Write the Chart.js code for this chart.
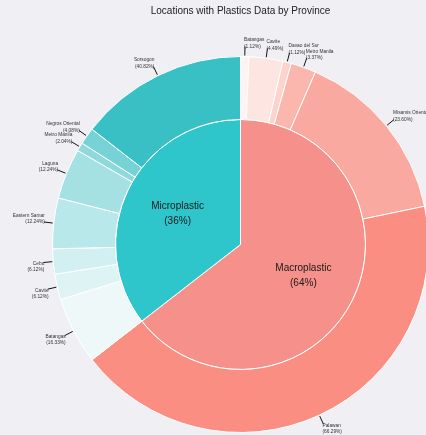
<!DOCTYPE html>
<html>
<head>
<meta charset="utf-8">
<script src="https://cdn.jsdelivr.net/npm/chart.js@4.4.1/dist/chart.umd.min.js"></script>
<style>
  html, body { margin: 0; padding: 0; background: #f0eff4; overflow: hidden; }
  #wrap { width: 440px; height: 435px; }
</style>
</head>
<body>
<div id="wrap"><canvas id="c" width="440" height="435"></canvas></div>
<script>
const title = 'Locations with Plastics Data by Province';
const categories = ['Macroplastic', 'Microplastic'];
const macroProvinces = ['Batangas', 'Cavite', 'Davao del Sur', 'Metro Manila', 'Misamis Oriental', 'Palawan'];
const macroCounts = [1, 4, 1, 3, 21, 59];
const microProvinces = ['Batangas', 'Cavite', 'Cebu', 'Eastern Samar', 'Laguna', 'Metro Manila', 'Negros Oriental', 'Sorsogon'];
const microCounts = [8, 3, 3, 6, 6, 1, 2, 20];

const sum = a => a.reduce((s, v) => s + v, 0);
const innerValues = [sum(macroCounts), sum(microCounts)];
const total = sum(innerValues);
const innerColors = ['#f5918a', '#2ec5cb'];
const macroColors = ['#fdf3f2', '#fde6e2', '#fcd3cd', '#fbb7ad', '#f9a99f', '#fb8e82'];
const microColors = ['#eef8f9', '#ddf3f4', '#d2f0f1', '#b8e8ea', '#a5e1e3', '#8fd9dc', '#76d2d5', '#38c0c5'];

const outerLabels = macroProvinces.concat(microProvinces);
const outerValues = macroCounts.concat(microCounts);
const outerPct = macroCounts.map(v => (v / innerValues[0] * 100).toFixed(2))
  .concat(microCounts.map(v => (v / innerValues[1] * 100).toFixed(2)));

const labelPlugin = {
  id: 'labels',
  afterDraw(chart) {
    const ctx = chart.ctx;
    const ca = chart.chartArea;
    // title
    ctx.save();
    const outerMeta = chart.getDatasetMeta(0);
    const cx = outerMeta.data[0].x, cy = outerMeta.data[0].y;
    ctx.fillStyle = '#222';
    ctx.font = '10px "Liberation Sans", Arial, sans-serif';
    ctx.textAlign = 'center';
    ctx.textBaseline = 'middle';
    ctx.fillText(title, cx, 11);

    // outer labels
    ctx.font = '4.8px "Liberation Sans", Arial, sans-serif';
    outerMeta.data.forEach((arc, i) => {
      const p = arc.getProps(['x', 'y', 'startAngle', 'endAngle', 'outerRadius'], true);
      const mid = (p.startAngle + p.endAngle) / 2;
      const c = Math.cos(mid), s = Math.sin(mid);
      const x0 = p.x + c * (p.outerRadius + 1), y0 = p.y + s * (p.outerRadius + 1);
      const x1 = p.x + c * (p.outerRadius + 10), y1 = p.y + s * (p.outerRadius + 10);
      ctx.strokeStyle = '#111';
      ctx.lineWidth = 1;
      ctx.beginPath(); ctx.moveTo(x0, y0); ctx.lineTo(x1, y1); ctx.stroke();
      const right = c >= 0;
      ctx.textAlign = right ? 'left' : 'right';
      const tx = right ? x1 - 1 : x1 + 1;
      const upper = s < 0;
      const l1y = upper ? y1 - 6.5 : y1 + 1;
      ctx.fillStyle = '#333';
      ctx.fillText(outerLabels[i], tx, l1y);
      ctx.fillText('(' + outerPct[i] + '%)', tx, l1y + 6.5);
    });

    // inner labels
    const innerMeta = chart.getDatasetMeta(1);
    ctx.font = '10px "Liberation Sans", Arial, sans-serif';
    ctx.textAlign = 'center';
    innerMeta.data.forEach((arc, i) => {
      const p = arc.getProps(['x', 'y', 'startAngle', 'endAngle', 'outerRadius'], true);
      const mid = (p.startAngle + p.endAngle) / 2;
      const r = p.outerRadius * 0.56;
      const x = p.x + Math.cos(mid) * r, y = p.y + Math.sin(mid) * r;
      ctx.fillStyle = '#1a1a1a';
      ctx.fillText(categories[i], x, y - 7);
      ctx.fillText('(' + Math.round(innerValues[i] / total * 100) + '%)', x, y + 8);
    });
    ctx.restore();
  }
};

new Chart(document.getElementById('c'), {
  type: 'doughnut',
  data: {
    labels: outerLabels,
    datasets: [
      {
        data: outerValues,
        backgroundColor: macroColors.concat(microColors),
        borderColor: '#ffffff',
        borderWidth: 1,
        weight: 63
      },
      {
        data: innerValues,
        backgroundColor: innerColors,
        borderColor: '#ffffff',
        borderWidth: 1,
        weight: 125
      }
    ]
  },
  options: {
    responsive: false,
    animation: false,
    cutout: 0,
    layout: { padding: { left: 52, right: 11, top: 56, bottom: 2 } },
    plugins: {
      legend: { display: false },
      title: { display: false },
      tooltip: { enabled: false }
    }
  },
  plugins: [labelPlugin]
});
</script>
</body>
</html>
